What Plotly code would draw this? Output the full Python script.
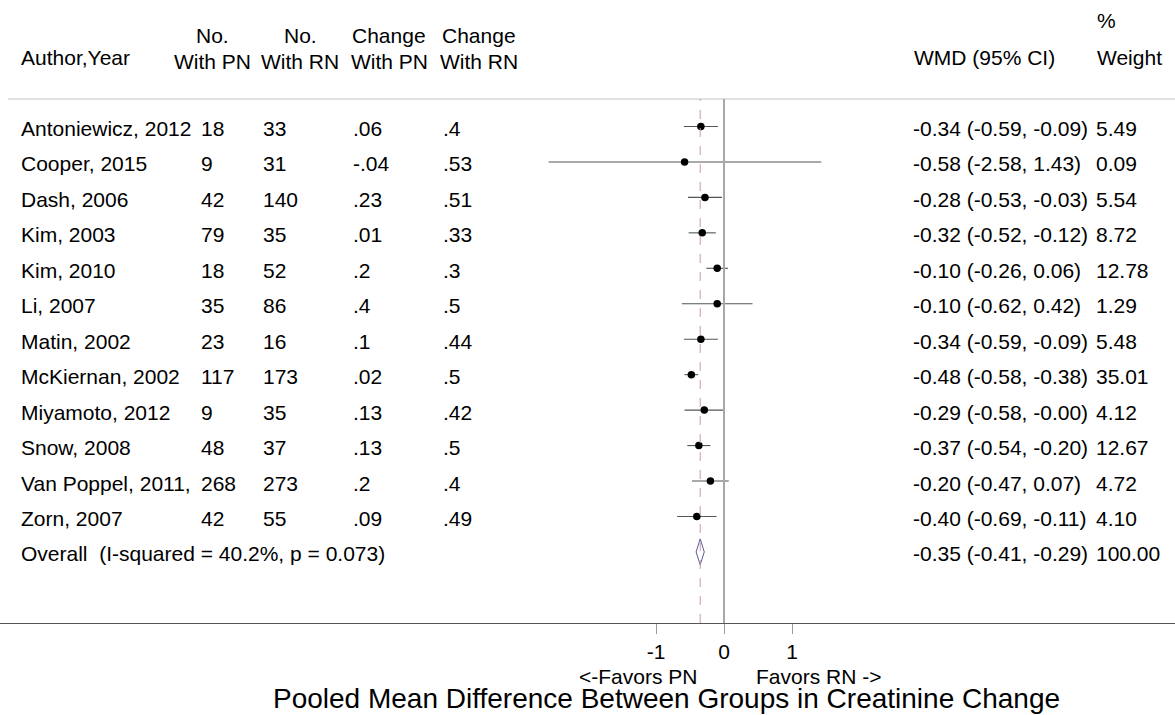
import plotly.graph_objects as go

# ---------------- data ----------------
authors = ["Antoniewicz, 2012", "Cooper, 2015", "Dash, 2006", "Kim, 2003", "Kim, 2010",
           "Li, 2007", "Matin, 2002", "McKiernan, 2002", "Miyamoto, 2012", "Snow, 2008",
           "Van Poppel, 2011,", "Zorn, 2007"]
n_pn = ["18", "9", "42", "79", "18", "35", "23", "117", "9", "48", "268", "42"]
n_rn = ["33", "31", "140", "35", "52", "86", "16", "173", "35", "37", "273", "55"]
chg_pn = [".06", "-.04", ".23", ".01", ".2", ".4", ".1", ".02", ".13", ".13", ".2", ".09"]
chg_rn = [".4", ".53", ".51", ".33", ".3", ".5", ".44", ".5", ".42", ".5", ".4", ".49"]
wmd = [-0.34, -0.58, -0.28, -0.32, -0.10, -0.10, -0.34, -0.48, -0.29, -0.37, -0.20, -0.40]
ci_lo = [-0.59, -2.58, -0.53, -0.52, -0.26, -0.62, -0.59, -0.58, -0.58, -0.54, -0.47, -0.69]
ci_hi = [-0.09, 1.43, -0.03, -0.12, 0.06, 0.42, -0.09, -0.38, -0.00, -0.20, 0.07, -0.11]
weights = ["5.49", "0.09", "5.54", "8.72", "12.78", "1.29", "5.48", "35.01", "4.12", "12.67", "4.72", "4.10"]
overall_label = "Overall\u00a0 (I-squared = 40.2%, p = 0.073)"
overall_est, overall_lo, overall_hi = -0.35, -0.41, -0.29
overall_weight = "100.00"
tick_vals = [-1, 0, 1]
tick_text = ["-1", "0", "1"]
favors_left = "<-Favors PN"
favors_right = "Favors RN ->"
title_text = "Pooled Mean Difference Between Groups in Creatinine Change"

# ---------------- geometry ----------------
W, H = 1175, 715
PLOT_H = 623          # plot area height (axis line at this pixel)
ROW0 = 126.5          # pixel of first row
ROW_H = 35.45         # pixel per row
ZERO_PX = 724
UNIT_PX = 68.0
FONT = "Liberation Sans, Arial, sans-serif"
FS = 21

rows = list(range(len(authors)))
overall_row = len(authors)

def px_x(px):
    return px / W

def px_y(py):
    return 1 - py / PLOT_H

fig = go.Figure()

# study estimates with CIs
fig.add_trace(go.Scatter(
    x=wmd, y=rows, mode="markers",
    marker=dict(color="black", size=7.5, symbol="circle"),
    error_x=dict(type="data", symmetric=False,
                 array=[h - e for h, e in zip(ci_hi, wmd)],
                 arrayminus=[e - l for e, l in zip(wmd, ci_lo)],
                 color="#555555", thickness=1.1, width=0),
    showlegend=False, hoverinfo="skip"))

# overall diamond
dh = 13 / ROW_H
fig.add_trace(go.Scatter(
    x=[overall_lo, overall_est, overall_hi, overall_est, overall_lo],
    y=[overall_row, overall_row - dh, overall_row, overall_row + dh, overall_row],
    mode="lines", line=dict(color="#5a5aa0", width=1),
    showlegend=False, hoverinfo="skip"))

shapes = []
# top separator
shapes.append(dict(type="line", xref="paper", yref="paper", x0=px_x(8), x1=1,
                   y0=px_y(99), y1=px_y(99), line=dict(color="#e2e2e2", width=2)))
# no-effect line
shapes.append(dict(type="line", xref="x", yref="paper", x0=0, x1=0,
                   y0=0, y1=px_y(99), line=dict(color="#a8a8a8", width=2)))
# overall estimate dashed line
shapes.append(dict(type="line", xref="x", yref="paper", x0=overall_est, x1=overall_est,
                   y0=0, y1=px_y(99), line=dict(color="#c99a9a", width=1, dash="dash")))

ann = []
def text(x_px, y, s, yref="y", xanchor="left", size=FS, yshift=-2):
    ann.append(dict(x=px_x(x_px), xref="paper", y=y, yref=yref, text=s,
                    showarrow=False, xanchor=xanchor, yanchor="middle",
                    yshift=yshift, font=dict(family=FONT, size=size, color="black")))

cols = [19, 199, 261, 351, 441, 911, 1094]
for i in rows:
    text(cols[0], i, authors[i])
    text(cols[1], i, n_pn[i])
    text(cols[2], i, n_rn[i])
    text(cols[3], i, chg_pn[i])
    text(cols[4], i, chg_rn[i])
    text(cols[5], i, f"{wmd[i]:.2f} ({ci_lo[i]:.2f}, {ci_hi[i]:.2f})")
    text(cols[6], i, weights[i])
text(cols[0], overall_row, overall_label)
text(cols[5], overall_row, f"{overall_est:.2f} ({overall_lo:.2f}, {overall_hi:.2f})")
text(cols[6], overall_row, overall_weight)

# headers
text(19, px_y(58), "Author,Year", yref="paper", yshift=0)
text(212, px_y(35), "No.", yref="paper", xanchor="center", yshift=0)
text(212, px_y(61), "With PN", yref="paper", xanchor="center", yshift=0)
text(300, px_y(35), "No.", yref="paper", xanchor="center", yshift=0)
text(300, px_y(61), "With RN", yref="paper", xanchor="center", yshift=0)
text(389, px_y(35), "Change", yref="paper", xanchor="center", yshift=0)
text(389, px_y(61), "With PN", yref="paper", xanchor="center", yshift=0)
text(479, px_y(35), "Change", yref="paper", xanchor="center", yshift=0)
text(479, px_y(61), "With RN", yref="paper", xanchor="center", yshift=0)
text(912, px_y(58), "WMD (95% CI)", yref="paper", yshift=0)
text(1095, px_y(21), "%", yref="paper", yshift=0)
text(1095, px_y(58), "Weight", yref="paper", yshift=0)

# favors labels and title
text(638, px_y(676), favors_left, yref="paper", xanchor="center", yshift=0)
text(818, px_y(676), favors_right, yref="paper", xanchor="center", yshift=0)
text(666, px_y(698), title_text, yref="paper", xanchor="center", size=28, yshift=0)

fig.update_layout(
    width=W, height=H, autosize=False,
    margin=dict(l=0, r=0, t=0, b=H - PLOT_H, pad=0),
    paper_bgcolor="white", plot_bgcolor="white",
    shapes=shapes, annotations=ann, showlegend=False,
    xaxis=dict(range=[-ZERO_PX / UNIT_PX, (W - ZERO_PX) / UNIT_PX],
               tickvals=tick_vals, ticktext=tick_text,
               ticks="outside", ticklen=10, tickcolor="#999999", tickwidth=1,
               showline=True, linecolor="#555555", linewidth=1,
               showgrid=False, zeroline=False, fixedrange=True,
               tickfont=dict(family=FONT, size=FS, color="black")),
    yaxis=dict(range=[(PLOT_H - ROW0) / ROW_H, -ROW0 / ROW_H],
               visible=False, showgrid=False, zeroline=False, fixedrange=True),
)

fig.write_html("out.html", config={"displayModeBar": False},
               post_script="document.body.style.margin='0';document.body.style.overflow='hidden';")
